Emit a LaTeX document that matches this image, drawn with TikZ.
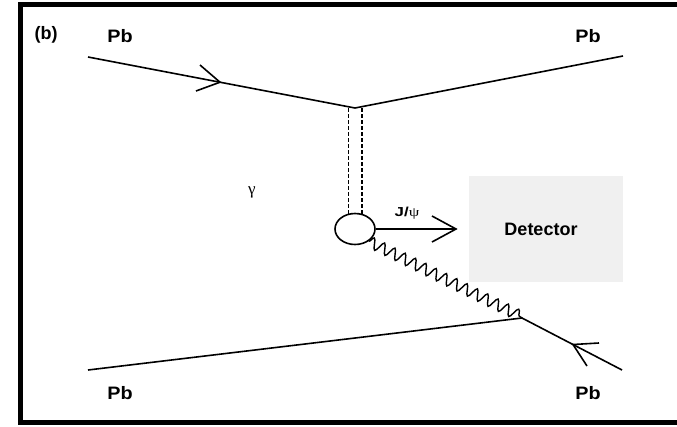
\documentclass[tikz,border=0pt]{standalone}
\usepackage{fontspec}
\setmainfont{Liberation Sans}
\newfontfamily\grk{Liberation Serif}
\usetikzlibrary{decorations.pathmorphing,shapes.geometric,calc}
\definecolor{detgray}{HTML}{F0F0F0}
\begin{document}
\begin{tikzpicture}[x=1pt,y=-1pt,
  prop/.style={line width=1.6pt},
  arm/.style={line width=1.6pt},
  dbl/.style={line width=1.4pt, dash pattern=on 3.5pt off 2.5pt},
  wavy/.style={line width=1.4pt, decorate, decoration={snake, segment length=11.5pt, amplitude=5.5pt, post length=1pt}},
  lbl/.style={font=\fontsize{18}{18}\selectfont\bfseries, inner sep=0pt},
  grklbl/.style={font=\grk\fontsize{17}{17}\selectfont, inner sep=0pt}]
\useasboundingbox (0,0) rectangle (677,426);
% frame
\draw[line width=5.5pt] (677,4.5) -- (20.5,4.5) -- (20.5,422.5) -- (677,422.5);
% vertices
\coordinate (tl) at (88,57);
\coordinate (v1) at (355,108);
\coordinate (tr) at (623,56);
\coordinate (bl) at (88,370);
\coordinate (v2) at (522,318);
\coordinate (br) at (622,370);
% propagators
\draw[prop] (tl) -- (v1) -- (tr);
\draw[prop] (bl) -- (v2) -- (br);
% arrowheads
\coordinate (t1) at ($(tl)!0.4944!(v1)$);
\draw[arm] (200,65) -- (t1) -- (196,91);
\coordinate (t2) at ($(v2)!0.51!(br)$);
\draw[arm] (599,343) -- (t2) -- (587,366);
% blob
\node[draw, ellipse, prop, minimum width=40, minimum height=31, inner sep=0pt] (blob) at (355,229) {};
% photon double dashed
\draw[dbl] ($(v1)+(-6.5,0)$) -- (348.5,214.5);
\draw[dbl] ($(v1)+(7,0)$) -- (362,214.5);
% J/psi
\coordinate (t3) at (456,229);
\draw[prop] (blob.east) -- (t3);
\draw[arm] (432,216) -- (t3) -- (432,242);
\node[lbl, font=\fontsize{13}{13}\selectfont\bfseries] (jpsi) at (407,213) {\scalebox{1.3}[1]{J/{\grk\mdseries ψ}}};
% wavy pomeron
\draw[wavy] (blob.-42) -- ($(v2)+(-6,-4)$) -- (v2);
% detector
\node[fill=detgray, minimum width=154, minimum height=106, inner sep=0pt] (det) at (546,229) {};
\node[lbl] (dettext) at (541,229) {Detector};
% labels
\node[lbl] (b) at (46,35) {(b)};
\node[lbl] (pb1) at (120,36) {\scalebox{1.1}[1]{Pb}};
\node[lbl] (pb2) at (588,36) {\scalebox{1.1}[1]{Pb}};
\node[lbl] (pb3) at (120,393) {\scalebox{1.1}[1]{Pb}};
\node[lbl] (pb4) at (588,393) {\scalebox{1.1}[1]{Pb}};
\node[grklbl] (gam) at (252,192) {γ};
\end{tikzpicture}
\end{document}
